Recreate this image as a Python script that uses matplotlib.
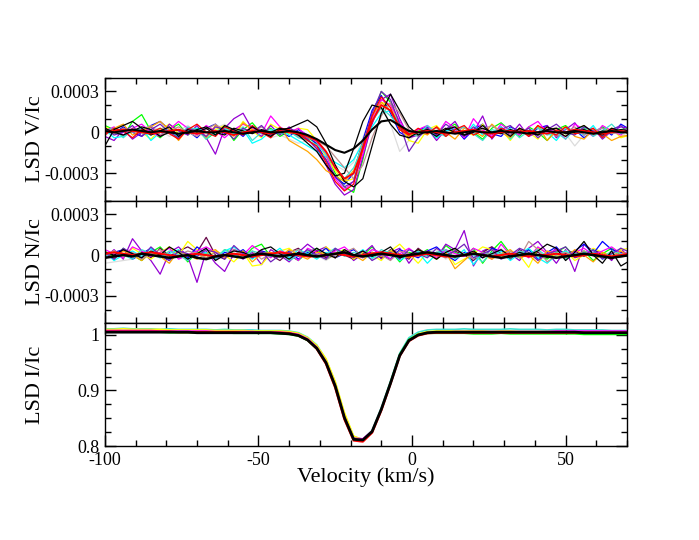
import numpy as np
import matplotlib
matplotlib.use("Agg")
import matplotlib.pyplot as plt
from matplotlib.ticker import FixedLocator, MultipleLocator, FixedFormatter

plt.rcParams['font.family'] = ['Liberation Serif', 'DejaVu Serif']
plt.rcParams['axes.unicode_minus'] = False

# velocity grid (km/s)
vel = [-100, -97, -94, -91, -88, -85, -82, -79, -76, -73,
       -70, -67, -64, -61, -58, -55, -52, -49, -46, -43,
       -40, -37, -34, -31, -28, -25, -22, -19, -16, -13,
       -10, -7, -4, -1, 2, 5, 8, 11, 14, 17,
       20, 23, 26, 29, 32, 35, 38, 41, 44, 47,
       50, 53, 56, 59, 62, 65, 68, 71]

# Stokes V/Ic, units of 1e-5
V_green = [5, 2, -3, 8, 13, 1, -4, 2, 6, -2, 3, -5, 0, 4, -6, 2, 7, -1, 3, -3, 1, -2,
           -4, -8, -15, -30, -40, -44, -20, 10, 30, 22, 4, -3, 1,
           3, -4, 2, 6, -2, 0, -5, 3, 7, 1, -3, 4, 0, -6, 2, 5, -1, 3, -2, 4, 0, 2, 3]
V_red = [-2, 3, 1, -4, 2, 0, 3, -1, -5, 2, 6, 0, -3, 4, 1, -2, 5, 0, -4, 3, 2, -1,
         -6, -10, -22, -36, -43, -38, -12, 12, 26, 18, 2, -2, 3,
         -1, 4, -3, 2, 5, -2, 1, -4, 3, 0, 2, -3, 5, 1, -2, 4, -1, 0, 3, -4, 2, 1, -1]
V_blue = [3, -1, 4, 0, -3, 5, 8, 2, -2, 1, -4, 3, 6, -1, 2, -3, 4, 1, -2, 0, -3, 2,
          -2, -9, -20, -33, -38, -30, -6, 16, 27, 14, 0, -4, 2,
          4, -2, 1, 3, -5, 2, 6, -1, -3, 4, 1, -2, 3, 5, -3, 0, 2, -4, 1, 3, -2, 6, 2]
V_yellow = [4, 1, -2, 3, 0, -5, 2, 6, -1, 3, 0, -3, 2, 5, -2, 8, 1, -4, 6, 2, -1, 3,
            2, -6, -18, -28, -36, -34, -14, 8, 22, 20, 6, -6, -8,
            2, 5, -3, 4, 0, -2, 6, -4, 2, -6, 3, 0, -5, 4, 2, -3, 1, 5, -2, 0, 3, -4, -2]
V_violet = [-3, -6, 2, -5, 0, 4, -3, 6, 1, -2, 5, -4, -16, 3, 10, 14, 2, -3, 5, -2, 4, -3,
            -5, -12, -24, -38, -46, -42, -18, 6, 24, 28, 10, -4, -2,
            3, -6, 2, 8, -3, 0, 12, -5, 4, -2, 6, -3, 0, 5, -4, 2, 7, -2, 3, -5, 1, 4, 3]
V_cyan = [2, -4, -3, 1, 3, -6, 0, 2, -4, 1, 3, 0, -2, 4, -1, 2, -8, -5, 1, 3, -2, -6,
          -10, -14, -18, -22, -26, -20, -8, 4, 14, 16, 6, 0, -3,
          2, -4, 1, 3, -3, 6, -2, 0, 4, -5, 2, -1, 4, 0, -6, 3, 1, -2, 5, -4, 2, 0, 1]
V_magenta = [1, 4, -2, 3, 6, 0, -3, 2, 8, 3, -2, 5, 1, -4, 2, 6, 3, -1, 12, 4, 0, 3,
             -3, -7, -16, -34, -42, -36, -16, 10, 24, 20, 8, -2, 2,
             5, -2, 8, 3, -4, 10, 2, -3, 6, 1, -2, 4, 8, 0, 3, -5, 6, 2, -3, 5, 1, -2, 4]
V_orange = [0, 3, 6, -2, 1, 4, 8, 2, -6, 3, 1, -4, 5, 2, -3, 7, 2, 0, -3, 4, -6, -10,
            -14, -20, -28, -32, -36, -28, -8, 12, 22, 16, 2, -3, 1,
            -2, 4, 0, -5, 3, 1, -3, 6, 0, -4, 3, -2, 5, -6, 1, 4, -3, -5, 2, -1, -6, -3, -2]
V_brown = [2, -1, 3, 0, 2, 5, -2, 1, 4, 0, -3, 2, 6, 1, -2, 3, 0, 4, -1, 2, 0, -3,
           -4, -6, -10, -18, -26, -34, -24, -4, 12, 22, 14, 2, -3,
           1, 3, -2, 0, 4, -1, 2, 5, 0, -2, 3, 1, -1, 2, -3, 0, 4, -2, 1, 3, -1, 0, 1]
V_grey = [-2, 1, 3, 0, -1, 4, 2, -3, 1, 5, 0, -2, 3, 6, 1, -1, 2, 0, -4, -2, -5, -8,
          -6, -10, -14, -24, -28, -22, -4, 14, 20, 6, -14, -6, 0,
          2, -3, 1, 4, 0, -2, 3, 1, -1, 2, 0, 3, -2, 1, 4, -1, -10, -2, 2, 0, 1, -3, 1]
V_indigo = [3, -2, 0, 5, -3, 2, 6, 0, -4, 3, 1, -3, 4, 2, -5, 3, 0, 5, -2, 1, 3, 0,
            -5, -12, -20, -32, -40, -36, -10, 14, 30, 24, 6, -14, -4,
            3, -2, 6, 1, -3, 4, 0, -4, 2, 5, -1, 3, -4, 2, 6, 0, -2, 4, 1, -3, 2, 5, -2]
V_turq = [1, 3, -4, 2, 0, -2, 3, 1, -3, 4, 2, -5, 1, 3, -2, 4, -6, 0, 2, -1, 1, -4,
          -6, -9, -16, -26, -34, -26, -10, 8, 18, 12, 4, 1, -2,
          5, 0, -3, 2, 4, -1, -6, 2, 0, 3, -4, 1, 3, -2, 0, -5, 2, 4, -3, 1, 6, -1, 2]
V_black1 = [-10, 2, 5, 8, 3, -2, 1, 4, -3, 2, 0, 3, -2, 5, 2, -1, 4, 0, -3, 2, 3, 6,
            9, 4, -8, -24, -36, -40, -34, -10, 14, 28, 16, 4, -2,
            1, -3, 2, 4, -2, 0, 5, -1, 2, -3, 3, 0, -2, 4, 1, -3, 2, 5, 0, -2, 3, 1, -1]
V_black2 = [3, 0, -2, 1, 4, 2, -3, 0, 2, -1, 2, 4, 0, -2, 3, 1, -1, 2, 0, 3, 1, -2,
            -8, -14, -24, -32, -30, -12, 8, 20, 18, 6, -2, -4, 0,
            2, -1, 3, 0, -2, 1, 3, 0, -1, 2, 0, 1, -2, 2, 3, -1, 0, 2, -1, 1, 0, 2, 1]
V_black_mean = [1, 0, 1, 2, 1, 0, 1, 0, -1, 0, 1, 0, 0, 1, 0, -1, 0, 1, 0, 0, 1, 0,
                -2, -5, -9, -13, -15, -12, -6, 2, 8, 9, 5, 1, 0,
                0, 1, 0, -1, 0, 1, 0, 0, 1, 0, 0, -1, 0, 1, 0, 0, 1, 0, -1, 0, 1, 0, 0]
V_red_mean = [0, 1, 2, 1, 0, -1, 0, 1, 2, 0, -1, 0, 1, 0, -2, 0, 1, 0, -1, 1, 0, -1,
              -3, -6, -14, -26, -34, -30, -12, 8, 20, 16, 4, -1, 0,
              1, 0, -1, 0, 1, 2, 0, -1, 0, 1, 0, 1, 0, -1, 1, 0, 2, 1, 0, -1, 0, 1, 0]

# null N/Ic, units of 1e-5
N_green = [3, -2, 5, 0, -4, 2, 6, -1, 3, -5, 2, 0, -3, 4, 1, -2, 5, 8, -1, 3,
           0, -4, 2, 5, -3, 1, 4, -2, 0, 6, -1, 3, -5, 2, 0, 4, -3, 7, 2, -1,
           5, -6, 3, 10, 1, -2, 4, 0, -3, 2, 6, -1, 3, -4, 1, 5, 0, 2]
N_violet = [-2, 4, -3, 12, 3, -4, -14, 2, 6, -1, -20, 3, -6, -12, 1, -3, 2, -7, 4, 0,
            -5, 2, 8, 3, 6, -2, 4, -4, 1, 7, -3, 2, 5, -6, 3, 0, -2, 8, 4, 18,
            -8, 3, 6, -2, 1, -4, 5, 10, 2, -6, 4, -12, 8, 3, 2, -4, 5, -3]
N_maroon = [1, -3, 4, 0, 2, -2, 5, -1, 3, 6, 2, 13, 0, -3, 4, 1, -2, 3, 0, -4,
            2, 5, -1, 3, -2, 4, 0, -3, 1, 2, -2, 4, 1, -3, 5, 0, 2, -1, 3, 0,
            -4, 2, 6, 1, -3, 4, 0, 2, -2, 5, 1, 3, -1, 4, 0, -3, 2, 1]
N_yellow = [0, 3, -2, 5, 1, -3, 2, 6, 0, 10, 4, -2, 3, 0, -5, 2, -8, -7, 1, 3,
            5, 0, 3, -2, 6, 1, 4, -3, 2, 0, -4, 3, 8, 1, -6, 2, -1, 4, -7, -3,
            1, 6, 4, -2, 3, 0, -9, 5, 2, -1, 3, -4, 0, 5, 2, -2, 4, 5]
N_blue = [-1, 2, 4, -3, 1, 5, 0, -4, 3, -2, 6, 1, -3, 2, 0, 4, -2, 3, 1, -1,
          3, -3, 2, 0, 5, -2, 1, 4, -1, 2, 0, -3, 4, 1, -2, 3, 6, 0, -4, 2,
          1, -2, 5, 3, -1, 0, 4, -3, 2, 6, -2, 3, 8, 1, 10, 4, 2, -2]
N_cyan = [2, -4, 0, 3, -1, 5, -2, 1, 4, -3, 0, 2, -1, 3, 6, 1, -3, 2, 0, 5,
          -2, 4, 1, -3, 2, 0, 3, -1, 4, -2, 1, 3, -4, 0, 2, -6, 1, 3, -2, 4,
          -7, 2, 0, 3, -4, 1, 5, -2, -6, 0, 3, -1, 2, 4, -3, 1, 0, 3]
N_magenta = [4, 1, -2, 6, 3, -1, 2, 5, -3, 0, 3, 6, 2, -1, 4, 0, 7, 2, -2, 3,
             1, -4, 5, 2, -1, 3, 6, 0, -2, 4, 2, -3, 1, 5, 0, 3, -2, 4, 1, -1,
             5, 2, -3, 8, 0, 3, -2, 6, 1, 4, -1, 2, 5, 0, 3, 6, 1, 2]
N_orange = [1, -2, 3, 0, -4, 2, -1, -6, 3, 0, -3, 1, 4, -2, 0, 3, -5, 1, 2, -1,
            4, 0, -3, 2, 1, -2, 3, 0, -4, 2, -1, 3, 0, -2, 4, 1, -3, 2, -10, -4,
            2, 0, -3, 1, 4, -2, 0, -6, 3, 1, -2, 4, 0, -5, 2, -1, 3, -1]
N_brown = [-1, 3, 0, 2, -3, 1, 4, -2, 0, 3, 1, -2, 2, 0, 4, -1, 3, -3, 1, 0,
           2, 4, -1, 1, -3, 0, 2, 5, -2, 1, 0, -4, 3, 1, -1, 2, 0, -2, 4, 1,
           -3, 2, 1, 0, 3, -2, 10, 4, -5, 0, 2, -1, 3, 0, -2, 1, 0, 2]
N_grey = [-6, -5, -4, -3, 0, 2, -1, 3, 1, -2, 4, 0, -3, 2, 5, -1, 1, 3, 0, -2,
          2, -1, 3, 0, -4, 1, 2, -3, 0, 4, 1, -2, 3, 0, -1, 2, 4, -3, 1, 0,
          -2, 3, 0, 5, -1, 2, 0, -3, 1, 4, -2, 0, 3, -1, 2, 0, -2, 1]
N_indigo = [2, -3, 5, 1, -2, 6, 0, -4, 3, 1, -1, 4, 2, -3, 7, 1, -2, 3, -5, 0,
            2, -1, 4, 0, -3, 5, 1, -2, 3, -4, 0, 2, -3, 4, 1, -2, 5, 0, 3, 8,
            -2, 1, 4, -3, 0, 5, 2, -4, 1, 3, 6, -2, 0, 4, -3, 1, 5, 2]
N_turq = [-1, 2, 0, -3, 4, 1, -2, 3, 0, -4, 2, 1, -3, 4, 0, -2, 3, 1, -1, 2,
          -4, 0, 3, -2, 1, 5, -1, 2, 0, -3, 4, 1, -2, 0, 3, -1, 2, 4, -3, 1,
          0, -5, 2, 1, -2, 3, 0, 4, -1, 2, -3, 1, 0, 2, -2, 3, 1, -1]
N_black1 = [2, 0, 4, 1, -2, 3, 0, 6, 2, -3, 1, 5, -4, 0, 3, 2, -1, 4, 6, 1,
            -3, 2, 0, 5, 1, -2, 4, 0, 3, -1, 2, 6, -2, 0, 4, 1, -3, 2, 5, 0,
            3, -2, 1, 4, -1, 2, 0, 3, 8, 5, -4, 2, 10, 0, -6, 3, -8, -4]
N_red_mean = [1, 2, 1, 0, 1, 2, 1, 0, -1, 0, 1, 0, -1, 0, 1, 0, -1, 0, 1, 2,
              1, 0, -1, -1, 0, 1, 0, -1, 0, 1, 2, 1, 0, -1, 0, 1, 0, -1, -1, 0,
              1, 0, -1, 0, 1, 0, -1, 0, 0, 1, 0, -1, 0, 1, 0, -1, 0, 1]
N_black_mean = [-2, -1, 0, -1, 1, 0, -1, -2, -1, 0, -2, -3, -1, 0, -1, -2, 0, 1, 0, -1,
                0, 1, 0, -1, 0, 1, 2, 0, -1, 0, 1, 0, -1, 0, 1, 2, 1, 0, -1, 0,
                1, 0, -1, -2, -1, 0, 1, 0, -1, -2, -1, 0, 1, 0, -1, -2, -1, 0]

# Stokes I/Ic
I_turq = [1.011, 1.011, 1.012, 1.011, 1.011, 1.011, 1.010, 1.011, 1.010, 1.010,
          1.010, 1.010, 1.009, 1.010, 1.009, 1.009, 1.009, 1.008, 1.008, 1.008,
          1.007, 1.004, 0.996, 0.982, 0.956, 0.914, 0.857, 0.817, 0.812, 0.828,
          0.869, 0.917, 0.967, 0.995, 1.005, 1.009, 1.010,
          1.010, 1.010, 1.011, 1.010, 1.010, 1.010, 1.010, 1.011, 1.010, 1.010,
          1.010, 1.009, 1.010, 1.010, 1.009, 1.009, 1.009, 1.009, 1.008, 1.008, 1.008]
I_yellow = [1.010, 1.010, 1.011, 1.010, 1.010, 1.010, 1.010, 1.009, 1.009, 1.009,
            1.009, 1.009, 1.008, 1.008, 1.008, 1.008, 1.007, 1.007, 1.007, 1.007,
            1.006, 1.003, 0.995, 0.981, 0.957, 0.916, 0.860, 0.818, 0.811, 0.826,
            0.866, 0.913, 0.963, 0.991, 1.002, 1.006, 1.007,
            1.007, 1.007, 1.007, 1.007, 1.007, 1.006, 1.007, 1.007, 1.006, 1.006,
            1.006, 1.006, 1.006, 1.006, 1.005, 1.005, 1.005, 1.005, 1.005, 1.005, 1.005]
I_magenta = [1.008, 1.008, 1.008, 1.008, 1.008, 1.008, 1.007, 1.007, 1.007, 1.007,
             1.007, 1.007, 1.006, 1.006, 1.006, 1.006, 1.006, 1.005, 1.005, 1.005,
             1.004, 1.001, 0.993, 0.978, 0.952, 0.910, 0.853, 0.814, 0.813, 0.827,
             0.866, 0.914, 0.963, 0.990, 1.000, 1.004, 1.005,
             1.005, 1.006, 1.006, 1.006, 1.006, 1.006, 1.006, 1.006, 1.006, 1.006,
             1.006, 1.006, 1.007, 1.007, 1.007, 1.007, 1.007, 1.007, 1.007, 1.007, 1.007]
I_green = [1.005, 1.005, 1.005, 1.005, 1.005, 1.005, 1.005, 1.004, 1.004, 1.004,
           1.004, 1.004, 1.004, 1.004, 1.003, 1.003, 1.003, 1.003, 1.003, 1.002,
           1.001, 0.998, 0.990, 0.975, 0.950, 0.908, 0.851, 0.813, 0.809, 0.826,
           0.866, 0.915, 0.965, 0.992, 1.001, 1.003, 1.003,
           1.003, 1.003, 1.003, 1.002, 1.002, 1.002, 1.003, 1.002, 1.002, 1.002,
           1.002, 1.002, 1.002, 1.002, 1.002, 1.001, 1.001, 1.001, 1.001, 1.001, 1.001]
I_red = [1.006, 1.006, 1.006, 1.006, 1.006, 1.006, 1.006, 1.006, 1.005, 1.005,
         1.005, 1.005, 1.005, 1.005, 1.005, 1.004, 1.004, 1.004, 1.004, 1.004,
         1.003, 0.999, 0.991, 0.975, 0.948, 0.905, 0.848, 0.810, 0.808, 0.824,
         0.864, 0.912, 0.962, 0.989, 0.999, 1.003, 1.004,
         1.004, 1.004, 1.004, 1.004, 1.004, 1.004, 1.004, 1.004, 1.004, 1.004,
         1.004, 1.004, 1.004, 1.004, 1.004, 1.004, 1.004, 1.004, 1.004, 1.004, 1.004]
I_black = [1.005, 1.005, 1.005, 1.005, 1.005, 1.005, 1.005, 1.005, 1.005, 1.005,
           1.004, 1.004, 1.004, 1.004, 1.004, 1.004, 1.004, 1.004, 1.004, 1.003,
           1.002, 0.999, 0.991, 0.976, 0.950, 0.908, 0.851, 0.812, 0.811, 0.826,
           0.866, 0.913, 0.963, 0.990, 1.000, 1.004, 1.005,
           1.005, 1.005, 1.005, 1.005, 1.005, 1.005, 1.005, 1.005, 1.005, 1.005,
           1.005, 1.005, 1.005, 1.005, 1.005, 1.004, 1.004, 1.004, 1.004, 1.004, 1.004]

# grace-like colours
c = {'black': '#000000', 'red': '#ff0000', 'green': '#00ff00', 'blue': '#0000ff',
     'yellow': '#ffff00', 'brown': '#bc8f8f', 'violet': '#9400d3', 'cyan': '#00ffff',
     'magenta': '#ff00ff', 'orange': '#ffa500', 'maroon': '#670748', 'turq': '#40e0d0',
     'grey': '#dcdcdc', 'indigo': '#7221bc'}

V_sets = [(V_grey, 'grey', 0.9), (V_green, 'green', 0.9), (V_blue, 'blue', 0.9),
          (V_yellow, 'yellow', 0.9), (V_violet, 'violet', 0.9), (V_cyan, 'cyan', 0.9),
          (V_magenta, 'magenta', 0.9), (V_orange, 'orange', 0.9), (V_brown, 'brown', 0.9),
          (V_turq, 'turq', 0.9), (V_indigo, 'indigo', 0.9), (V_red, 'red', 0.9),
          (V_black1, 'black', 0.9), (V_black2, 'black', 0.9),
          (V_red_mean, 'red', 1.3), (V_black_mean, 'black', 1.5)]
N_sets = [(N_grey, 'grey', 0.9), (N_green, 'green', 0.9), (N_violet, 'violet', 0.9),
          (N_maroon, 'maroon', 0.9), (N_yellow, 'yellow', 0.9), (N_blue, 'blue', 0.9),
          (N_cyan, 'cyan', 0.9), (N_magenta, 'magenta', 0.9), (N_orange, 'orange', 0.9),
          (N_brown, 'brown', 0.9), (N_turq, 'turq', 0.9), (N_indigo, 'indigo', 0.9),
          (N_black1, 'black', 0.9), (N_red_mean, 'red', 1.5), (N_black_mean, 'black', 1.8)]
I_sets = [(I_turq, 'turq', 1.2), (I_yellow, 'yellow', 1.2), (I_magenta, 'magenta', 1.2),
          (I_green, 'green', 1.2), (I_red, 'red', 1.6), (I_black, 'black', 2.0)]

fig = plt.figure(figsize=(6.99, 5.40), dpi=100)
L, W = 0.150, 0.747
B, T = 0.174, 0.856
H = (T - B) / 3
axV = fig.add_axes([L, B + 2 * H, W, H])
axN = fig.add_axes([L, B + H, W, H])
axI = fig.add_axes([L, B, W, H])

for data, col, lw in V_sets:
    axV.plot(vel, np.array(data) * 1e-5, color=c[col], lw=lw)
for data, col, lw in N_sets:
    axN.plot(vel, np.array(data) * 1e-5, color=c[col], lw=lw)
for data, col, lw in I_sets:
    axI.plot(vel, data, color=c[col], lw=lw)

for ax in (axV, axN, axI):
    ax.set_xlim(-100, 70)
    ax.xaxis.set_major_locator(FixedLocator([-100, -50, 0, 50]))
    ax.xaxis.set_minor_locator(MultipleLocator(10))
    ax.tick_params(which='both', direction='in', top=True, right=True, width=1)
    ax.tick_params(which='major', length=8, labelsize=13, pad=4)
    ax.tick_params(which='minor', length=4)
    for sp in ax.spines.values():
        sp.set_linewidth(1)

for ax in (axV, axN):
    ax.set_ylim(-0.0005, 0.0004)
    ax.yaxis.set_major_locator(FixedLocator([-0.0003, 0, 0.0003]))
    ax.yaxis.set_major_formatter(FixedFormatter(['-0.0003', '0', '0.0003']))
    ax.yaxis.set_minor_locator(MultipleLocator(0.0001))
    ax.tick_params(labelbottom=False)

axI.set_ylim(0.8, 1.021)
axI.yaxis.set_major_locator(FixedLocator([0.8, 0.9, 1.0]))
axI.yaxis.set_major_formatter(FixedFormatter(['0.8', '0.9', '1']))
axI.yaxis.set_minor_locator(MultipleLocator(0.025))
axI.xaxis.set_major_formatter(FixedFormatter(['-100', '-50', '0', '50']))

axV.set_ylabel('LSD V/Ic', fontsize=16)
axN.set_ylabel('LSD N/Ic', fontsize=16)
axI.set_ylabel('LSD I/Ic', fontsize=16)
for ax in (axV, axN, axI):
    ax.yaxis.set_label_coords(-0.115, 0.5)
axI.set_xlabel('Velocity (km/s)', fontsize=16)
axI.xaxis.set_label_coords(0.5, -0.17)

fig.savefig('out.png', dpi=100)
